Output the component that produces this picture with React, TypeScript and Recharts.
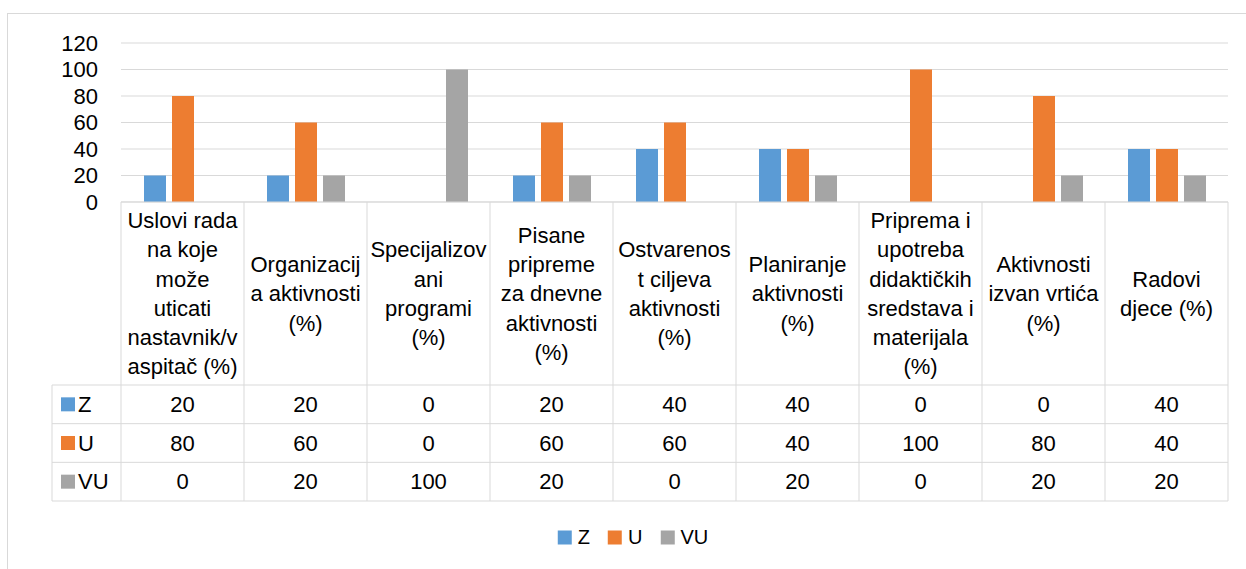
import React from "react";
import { BarChart, Bar, XAxis, YAxis, CartesianGrid } from "recharts";

// category labels, wrapped the way the data table wraps them
const categories = [
  "Uslovi rada\nna koje\nmože\nuticati\nnastavnik/v\naspitač (%)",
  "Organizacij\na aktivnosti\n(%)",
  "Specijalizov\nani\nprogrami\n(%)",
  "Pisane\npripreme\nza dnevne\naktivnosti\n(%)",
  "Ostvarenos\nt ciljeva\naktivnosti\n(%)",
  "Planiranje\naktivnosti\n(%)",
  "Priprema i\nupotreba\ndidaktičkih\nsredstava i\nmaterijala\n(%)",
  "Aktivnosti\nizvan vrtića\n(%)",
  "Radovi\ndjece (%)",
];

const zValues = [20, 20, 0, 20, 40, 40, 0, 0, 40];
const uValues = [80, 60, 0, 60, 60, 40, 100, 80, 40];
const vuValues = [0, 20, 100, 20, 0, 20, 0, 20, 20];

const yTicks = [0, 20, 40, 60, 80, 100, 120];

const series = [
  { key: "Z", values: zValues, color: "#5B9BD5" },
  { key: "U", values: uValues, color: "#ED7D31" },
  { key: "VU", values: vuValues, color: "#A5A5A5" },
];

const data = categories.map((name, i) => ({
  name,
  Z: zValues[i],
  U: uValues[i],
  VU: vuValues[i],
}));

const W = 1246;
const H = 569;
const PLOT_L = 121;
const PLOT_R = 1228;
const PLOT_T = 43;
const PLOT_B = 202;
const HEAD_B = 385;
const TABLE_B = 501;
const TABLE_L = 52;
const ROW_H = (TABLE_B - HEAD_B) / 3;
const COL_W = (PLOT_R - PLOT_L) / categories.length;
const LINE_H = 29.3;
const Y_AXIS_W = 60;

const GRID = "#D9D9D9";
const FONT = "'Liberation Sans', Arial, sans-serif";
const FS = 22;

// each x tick draws one column of the data table
const TableColumn = (props: any) => {
  const { x, index } = props;
  const left = x - COL_W / 2;
  const lines = categories[index].split("\n");
  const mid = (PLOT_B + HEAD_B) / 2;
  return (
    <g>
      <line x1={left} x2={left} y1={PLOT_B} y2={TABLE_B} stroke={GRID} />
      {index === categories.length - 1 && (
        <line
          x1={left + COL_W}
          x2={left + COL_W}
          y1={PLOT_B}
          y2={TABLE_B}
          stroke={GRID}
        />
      )}
      <text
        textAnchor="middle"
        fontFamily={FONT}
        fontSize={FS}
        fill="#000"
      >
        {lines.map((l, k) => (
          <tspan
            key={k}
            x={x}
            y={mid + (k - (lines.length - 1) / 2) * LINE_H}
            dy="0.35em"
          >
            {l}
          </tspan>
        ))}
      </text>
      {series.map((s, r) => (
        <text
          key={s.key}
          x={x}
          y={HEAD_B + ROW_H * (r + 0.5)}
          dy="0.35em"
          textAnchor="middle"
          fontFamily={FONT}
          fontSize={FS}
          fill="#000"
        >
          {s.values[index]}
        </text>
      ))}
    </g>
  );
};

export default function App() {
  return (
    <div
      style={{
        position: "absolute",
        left: 0,
        top: 0,
        width: W,
        height: H,
        background: "#fff",
        overflow: "hidden",
        fontFamily: FONT,
      }}
    >
      <svg
        width={W}
        height={H}
        style={{ position: "absolute", left: 0, top: 0 }}
      >
        <rect
          x={7.5}
          y={13.5}
          width={W + 20}
          height={H + 20}
          fill="none"
          stroke={GRID}
        />
        {/* row header column + row lines */}
        <line x1={TABLE_L} x2={TABLE_L} y1={HEAD_B} y2={TABLE_B} stroke={GRID} />
        {[0, 1, 2, 3].map((r) => (
          <line
            key={r}
            x1={TABLE_L}
            x2={PLOT_R}
            y1={HEAD_B + r * ROW_H}
            y2={HEAD_B + r * ROW_H}
            stroke={GRID}
          />
        ))}
        {series.map((s, r) => {
          const cy = HEAD_B + ROW_H * (r + 0.5);
          return (
            <g key={s.key}>
              <rect x={61} y={cy - 7} width={14} height={14} fill={s.color} />
              <text
                x={78}
                y={cy}
                dy="0.35em"
                fontFamily={FONT}
                fontSize={FS}
                fill="#000"
              >
                {s.key}
              </text>
            </g>
          );
        })}
      </svg>

      <div style={{ position: "absolute", left: 0, top: 0 }}>
        <BarChart
          width={W}
          height={H}
          data={data}
          margin={{
            top: PLOT_T,
            right: W - PLOT_R,
            left: PLOT_L - Y_AXIS_W,
            bottom: H - HEAD_B - 1,
          }}
          barCategoryGap={23}
          barGap={6}
        >
          <CartesianGrid vertical={false} stroke={GRID} />
          <YAxis
            width={Y_AXIS_W}
            domain={[0, 120]}
            ticks={yTicks}
            axisLine={false}
            tickLine={false}
            tickSize={0}
            tickMargin={23}
            interval={0}
            tick={{ fill: "#000", fontSize: FS, fontFamily: FONT }}
          />
          <XAxis
            dataKey="name"
            height={HEAD_B + 1 - PLOT_B}
            axisLine={{ stroke: GRID }}
            tickLine={false}
            interval={0}
            tick={<TableColumn />}
          />
          {series.map((s) => (
            <Bar
              key={s.key}
              dataKey={s.key}
              fill={s.color}
              isAnimationActive={false}
            />
          ))}
        </BarChart>
      </div>

      <div
        style={{
          position: "absolute",
          left: 633,
          top: 537,
          transform: "translate(-50%, -50%)",
          display: "flex",
          alignItems: "center",
          gap: 18,
          fontSize: 20,
          color: "#000",
          whiteSpace: "nowrap",
        }}
      >
        {series.map((s) => (
          <div key={s.key} style={{ display: "flex", alignItems: "center" }}>
            <span
              style={{
                width: 14,
                height: 14,
                background: s.color,
                display: "inline-block",
                marginRight: 6,
              }}
            />
            <span>{s.key}</span>
          </div>
        ))}
      </div>
    </div>
  );
}
